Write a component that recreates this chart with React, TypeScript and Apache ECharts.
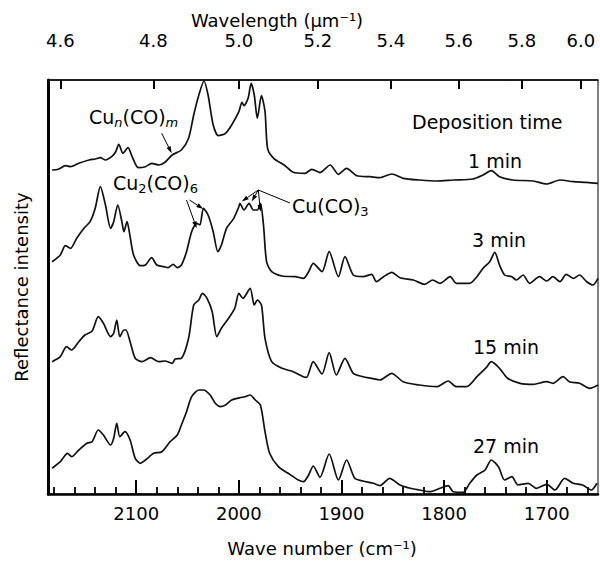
import React, { useEffect, useRef } from "react";
import * as echarts from "echarts";

const FONT = "DejaVu Sans";
const INK = "#000";

// Axis ranges (wave number, cm^-1, decreasing to the right)
const X_MIN = 1650;
const X_MAX = 2186;
const Y_MIN = 0;
const Y_MAX = 414;

const majorTicks = [2100, 2000, 1900, 1800, 1700];
const minorTicks = [2180, 2160, 2140, 2120, 2080, 2060, 2040, 2020, 1980, 1960, 1940, 1920, 1880, 1860, 1840, 1820, 1780, 1760, 1740, 1720, 1680, 1660];
const wavelengthTicks = [4.6, 4.8, 5.0, 5.2, 5.4, 5.6, 5.8, 6.0];

// Spectra: wave numbers and intensities (arbitrary units, relative to own baseline)
const wn1 = [2182, 2176, 2169, 2164, 2156, 2146, 2140, 2135, 2130, 2124, 2120, 2117, 2113, 2108, 2104, 2098, 2091, 2085, 2078, 2072, 2065, 2056, 2049, 2044, 2039, 2034, 2030, 2025, 2020, 2013, 2007, 2000, 1997, 1995, 1991, 1988, 1985, 1982, 1978, 1974.5, 1972, 1966, 1955, 1947, 1935.5, 1929, 1923, 1921, 1911, 1903, 1895, 1885, 1872, 1862.5, 1851, 1840, 1824, 1807, 1791, 1772, 1762, 1754, 1746, 1733, 1713, 1700, 1687, 1674, 1661, 1650];
const int1 = [14, 14.7, 18.3, 17.3, 20.7, 24, 25, 26.3, 24, 27.3, 32.3, 39.7, 30.7, 36.3, 27.3, 16.3, 17.3, 20.7, 19, 21.7, 29, 34, 45.7, 69, 89, 103, 89, 59, 48.3, 50.7, 59, 72.3, 81.7, 78.3, 85.7, 100.7, 89, 65.7, 88.3, 72.3, 35.7, 25.7, 18.3, 11.7, 10.7, 14.7, 12.3, 11.3, 19, 9.7, 15.7, 8.3, 7.3, 6.3, 10, 5.7, 4, 3, 4, 5, 9, 13.3, 7.3, 4, 3, 0, 4, 2.3, 1.7, 0.7];

const wn3 = [2182, 2174, 2169, 2164, 2158, 2151, 2145, 2140, 2135, 2130, 2125, 2122, 2118, 2114, 2112, 2109, 2106.5, 2102.6, 2096, 2091, 2085, 2080, 2073, 2069, 2064, 2060, 2056, 2051, 2046, 2041, 2038, 2034.5, 2030, 2025, 2020.5, 2017, 2012, 2005, 2000, 1999, 1995, 1990, 1986, 1982, 1979, 1976, 1973, 1968, 1958, 1945, 1937, 1932, 1927.5, 1919, 1912, 1903, 1896.6, 1888.5, 1879, 1870.6, 1866, 1859, 1851, 1843, 1830, 1819, 1811, 1804, 1794, 1788, 1775, 1768, 1762, 1755.5, 1750.6, 1746, 1741, 1734, 1729.5, 1723, 1716.6, 1707, 1700, 1694, 1687, 1681, 1674, 1668, 1661, 1655, 1650];
const int3 = [22.3, 29, 38.3, 35.7, 45.7, 55.7, 62.3, 75.7, 97.3, 79, 55.7, 62.3, 79, 62.3, 52.3, 62.3, 50.7, 29, 18.3, 19, 26.3, 19, 17.3, 16.3, 19.7, 16.3, 19, 32.3, 52.3, 60.7, 59, 75.7, 69, 52.3, 32.3, 39, 55.7, 65.7, 77.3, 80.7, 74, 80.7, 74, 74, 80.7, 59, 22.3, 12.3, 8, 7.3, 5.7, 12.3, 20.7, 12.3, 32.3, 7.3, 27.3, 9, 7.3, 9.7, 2.3, 7.3, 11.7, 6.3, 4, -0.3, 4, 0.7, 7.3, 0.7, 0.7, 7.3, 15.7, 22.3, 31.7, 19, 9, 7.3, 4, 9, 0.7, 7.3, 3, 7.3, 2.3, 9.7, 5.7, 9, 2.3, -1, 5.7];

const wn15 = [2182, 2174, 2168, 2163, 2156, 2150, 2143, 2137, 2132, 2125, 2122, 2119, 2116, 2112, 2110, 2106, 2101, 2094.5, 2086, 2078, 2072, 2065, 2062, 2056, 2049, 2044, 2039, 2035.5, 2031, 2026, 2021.5, 2017, 2010, 2004, 2000, 1996, 1989, 1985, 1982, 1978, 1974.5, 1968, 1958, 1947, 1937, 1934, 1927.5, 1919, 1912, 1905, 1896.6, 1888.5, 1879, 1870.6, 1862.5, 1851, 1840, 1824, 1807, 1796, 1788, 1778, 1768, 1759, 1754, 1746, 1738, 1726, 1713, 1700, 1694, 1684, 1678, 1668, 1658, 1650];
const int15 = [27.3, 32.3, 42.3, 39, 47.3, 54, 58, 72.3, 65.7, 52.3, 55.7, 69, 52.3, 59, 59, 47.3, 30.7, 27.3, 31.3, 27.3, 28, 25.7, 30, 30.7, 50.7, 84, 89, 95.7, 90.7, 77.3, 52.3, 60.7, 70.7, 80.7, 95.7, 90.7, 100.7, 84, 89, 84, 50.7, 27.3, 20.7, 17.3, 12.3, 11.7, 27.3, 15, 36.3, 14, 30.7, 15.7, 12.3, 10.7, 9, 15.7, 7.3, 4, 2.3, 8, 2.3, 2.3, 12.3, 21.3, 27.3, 20.7, 10.7, 5.7, 4.7, 7.3, 5.7, 12.3, 7.3, 5.7, 0.7, 4];

const wn27 = [2182, 2174, 2167, 2163, 2156, 2148, 2143, 2137, 2132, 2125, 2122, 2119, 2116, 2111, 2106, 2101, 2096, 2091, 2083, 2075, 2067, 2060, 2056, 2051, 2046, 2039, 2034.5, 2028, 2023, 2018, 2013, 2007, 1999, 1994, 1989, 1984, 1979, 1974.5, 1970, 1961.5, 1952, 1942, 1937, 1932, 1927.5, 1921, 1912, 1903, 1895, 1887, 1879, 1869, 1862.5, 1853, 1843, 1833, 1824, 1814, 1804, 1796, 1791, 1781.5, 1775, 1768, 1760, 1754, 1747, 1741, 1734, 1728, 1718, 1710, 1700, 1692, 1682.5, 1674, 1665, 1656.5, 1651];
const int27 = [25.7, 32.3, 40.7, 37.3, 44, 50.7, 52.3, 64, 59, 49, 55.7, 70.7, 57.3, 62.3, 54, 35.7, 30.7, 34, 40.7, 42.3, 52.3, 59, 69, 82.3, 97.3, 104, 104, 99, 90.7, 87.3, 89, 94, 96.3, 97.3, 99, 94, 89, 62.3, 40.7, 27.3, 20.7, 14, 12.3, 19, 28, 16.7, 40, 14, 34, 15.7, 13, 10.7, 8.3, 15.7, 9, 5.7, 4, 2.3, 5.7, 8.3, 2.3, 1.7, 10.7, 19, 24, 34, 27.3, 14, 17.3, 9, 10.7, 5.7, 9.7, 4, 15.7, 10.7, 9, 4, 10.7];

const seriesNames = ["1 min", "3 min", "15 min", "27 min"];
const seriesWn = [wn1, wn3, wn15, wn27];
const seriesInt = [int1, int3, int15, int27];
const stackOffsets = [310, 210, 105, 0];

function arrow(x1: number, y1: number, x2: number, y2: number, head = 7) {
  const ang = Math.atan2(y2 - y1, x2 - x1);
  const hx = x2 - head * Math.cos(ang);
  const hy = y2 - head * Math.sin(ang);
  const px = -Math.sin(ang) * head * 0.32;
  const py = Math.cos(ang) * head * 0.32;
  return [
    { type: "line", z: 100, shape: { x1, y1, x2: hx, y2: hy }, style: { stroke: INK, lineWidth: 1 } },
    { type: "polygon", z: 100, shape: { points: [[x2, y2], [hx + px, hy + py], [hx - px, hy - py]] }, style: { fill: INK } },
  ];
}

function label(text: string, x: number, y: number) {
  return {
    type: "text",
    z: 100,
    x,
    y,
    style: { text, fill: INK, font: `19px "${FONT}"`, align: "left", verticalAlign: "middle" },
  };
}

const richChem = {
  a: { fontSize: 19, fontFamily: FONT, lineHeight: 24, color: INK },
  s: { fontSize: 13, fontFamily: FONT, lineHeight: 12, verticalAlign: "bottom", color: INK },
  si: { fontSize: 13, fontFamily: FONT, fontStyle: "italic", lineHeight: 12, verticalAlign: "bottom", color: INK },
};

function chem(text: string, x: number, y: number) {
  return {
    type: "text",
    z: 100,
    x,
    y,
    style: { text, rich: richChem, fill: INK, align: "left", verticalAlign: "middle", font: `19px "${FONT}"` },
  };
}

export default function App() {
  const ref = useRef<HTMLDivElement>(null);
  useEffect(() => {
    if (!ref.current) return;
    const chart = echarts.init(ref.current, undefined, { renderer: "svg" });
    const toWn = (l: number) => 10000 / l;

    const graphic: any[] = [
      {
        type: "text", z: 100, x: 277, y: 20,
        style: { text: "Wavelength (μm⁻¹)", fill: INK, font: `18px "${FONT}"`, align: "center", verticalAlign: "middle" },
      },
      {
        type: "text", z: 100, x: 322, y: 548,
        style: { text: "Wave number (cm⁻¹)", fill: INK, font: `18px "${FONT}"`, align: "center", verticalAlign: "middle" },
      },
      {
        type: "text", z: 100, x: 21, y: 287, rotation: Math.PI / 2,
        style: { text: "Reflectance intensity", fill: INK, font: `18px "${FONT}"`, align: "center", verticalAlign: "middle" },
      },
      label("Deposition time", 412, 122),
      label("1 min", 468, 161),
      label("3 min", 472, 240),
      label("15 min", 473, 347),
      label("27 min", 473, 446),
      chem("{a|Cu}{si|n}{a|(CO)}{si|m}", 89, 117),
      chem("{a|Cu}{s|2}{a|(CO)}{s|6}", 113, 183),
      chem("{a|Cu(CO)}{s|3}", 292, 206),
      ...arrow(161.7, 133.3, 171.7, 153.3),
      ...arrow(186.5, 200, 196.7, 228.3),
      ...arrow(189.5, 200, 203.3, 209),
      { type: "line", z: 100, shape: { x1: 290, y1: 203, x2: 258.3, y2: 190 }, style: { stroke: INK, lineWidth: 1 } },
      ...arrow(258.3, 190, 241.7, 201.5),
      ...arrow(258.3, 190, 251.7, 201.5),
      ...arrow(258.3, 190, 260.5, 211.7),
    ];

    const option: any = {
      animation: false,
      backgroundColor: "#fff",
      grid: { left: 48, right: 2, top: 80, bottom: 71, show: true, borderColor: INK, borderWidth: 1 },
      xAxis: [
        {
          type: "value", position: "bottom", min: X_MIN, max: X_MAX, inverse: true,
          axisLine: { show: true, lineStyle: { color: INK, width: 2.5 } },
          axisTick: { show: true, inside: true, length: 14, customValues: majorTicks, lineStyle: { color: "#000", width: 2 } },
          axisLabel: {
            show: true, customValues: majorTicks, margin: 10, fontSize: 18, fontFamily: FONT, color: INK,
            formatter: (v: number) => String(Math.round(v)),
          },
          splitLine: { show: false },
        },
        {
          type: "value", position: "top", min: X_MIN, max: X_MAX, inverse: true,
          axisLine: { show: true, lineStyle: { color: INK, width: 1.5 } },
          axisTick: { show: true, inside: true, length: 9, customValues: wavelengthTicks.map(toWn), lineStyle: { color: "#000", width: 2 } },
          axisLabel: {
            show: true, customValues: wavelengthTicks.map(toWn), margin: 31, fontSize: 18, fontFamily: FONT, color: INK,
            formatter: (v: number) => (10000 / v).toFixed(1),
          },
          splitLine: { show: false },
        },
        {
          type: "value", position: "bottom", min: X_MIN, max: X_MAX, inverse: true,
          axisLine: { show: false },
          axisTick: { show: true, inside: true, length: 7, customValues: minorTicks, lineStyle: { color: "#000", width: 1.8 } },
          axisLabel: { show: false },
          splitLine: { show: false },
        },
      ],
      yAxis: {
        type: "value", min: Y_MIN, max: Y_MAX,
        axisLine: { show: true, lineStyle: { color: INK, width: 3 } },
        axisTick: { show: false },
        axisLabel: { show: false },
        splitLine: { show: false },
      },
      series: seriesNames.map((name, k) => ({
        name,
        type: "line",
        xAxisIndex: 0,
        showSymbol: false,
        smooth: 0.25,
        lineStyle: { color: "#111", width: 1.7 },
        data: seriesWn[k].map((w, i) => [w, seriesInt[k][i] + stackOffsets[k]]),
      })),
      graphic,
    };
    chart.setOption(option);
    return () => chart.dispose();
  }, []);
  return <div ref={ref} style={{ position: "absolute", left: 0, top: 0, width: 600, height: 565, background: "#fff" }} />;
}
